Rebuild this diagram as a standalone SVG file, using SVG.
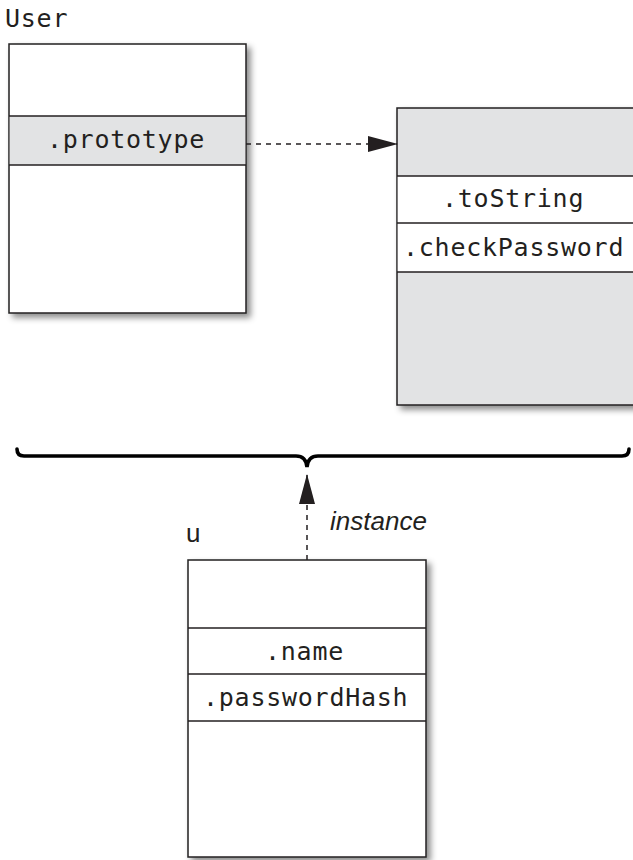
<svg xmlns="http://www.w3.org/2000/svg" width="633" height="860" viewBox="0 0 633 860">
<style>
.box{stroke:#231f20;stroke-width:1.5}
.w{fill:#ffffff}
.g{fill:#e2e3e4}
.div{stroke:#231f20;stroke-width:1.3}
.mono{font-family:"DejaVu Sans Mono","Liberation Mono",monospace;font-size:25px;letter-spacing:0.75px;fill:#231f20}
.sans{font-family:"Liberation Sans",Arial,sans-serif;font-size:26px;fill:#231f20}
.conn{stroke:#231f20;stroke-width:1.5;fill:none;stroke-dasharray:5 5}
</style>
<defs>
<filter id="sh" x="-10%" y="-10%" width="130%" height="130%">
<feDropShadow dx="4" dy="4" stdDeviation="3" flood-color="#000" flood-opacity="0.45"/>
</filter>
<marker id="ah" viewBox="0 0 30 16" refX="29" refY="8" markerWidth="30" markerHeight="16" markerUnits="userSpaceOnUse" orient="auto">
<path d="M0,0 L30,8 L0,16 Z" fill="#231f20"/>
</marker>
</defs>
<rect width="633" height="860" fill="#ffffff"/>

<g id="User">
<text class="mono" x="5" y="27">User</text>
<rect class="box w" x="9" y="44" width="237" height="269" filter="url(#sh)"/>
<rect class="g" x="9.75" y="116" width="235.5" height="49"/>
<line class="div" x1="9" y1="116" x2="246" y2="116"/>
<line class="div" x1="9" y1="165" x2="246" y2="165"/>
<text class="mono" x="47" y="148">.prototype</text>
</g>

<g id="Prototype">
<rect class="box g" x="397" y="108" width="250" height="297" filter="url(#sh)"/>
<rect class="w" x="397.75" y="176" width="240" height="96"/>
<line class="div" x1="397" y1="176" x2="640" y2="176"/>
<line class="div" x1="397" y1="223" x2="640" y2="223"/>
<line class="div" x1="397" y1="272" x2="640" y2="272"/>
<text class="mono" x="442" y="207">.toString</text>
<text class="mono" x="403" y="256">.checkPassword</text>
</g>

<g id="u">
<text class="sans" x="186" y="542">u</text>
<rect class="box w" x="188" y="560" width="238" height="297" filter="url(#sh)"/>
<line class="div" x1="188" y1="628" x2="426" y2="628"/>
<line class="div" x1="188" y1="674" x2="426" y2="674"/>
<line class="div" x1="188" y1="721" x2="426" y2="721"/>
<text class="mono" x="265" y="660">.name</text>
<text class="mono" x="203" y="706">.passwordHash</text>
</g>

<g id="brace">
<path d="M17,449 Q17,456 24,456 H296 Q306,456 307,467 Q308,456 318,456 H622 Q629,456 629,449" fill="none" stroke="#000" stroke-width="3.6" stroke-linecap="round"/>
</g>

<g id="connectors">
<line class="conn" x1="246" y1="144" x2="397" y2="144" marker-end="url(#ah)"/>
<line class="conn" x1="307" y1="560" x2="307" y2="475" marker-end="url(#ah)"/>
<text class="sans" x="330" y="530" font-style="italic">instance</text>
</g>
</svg>
